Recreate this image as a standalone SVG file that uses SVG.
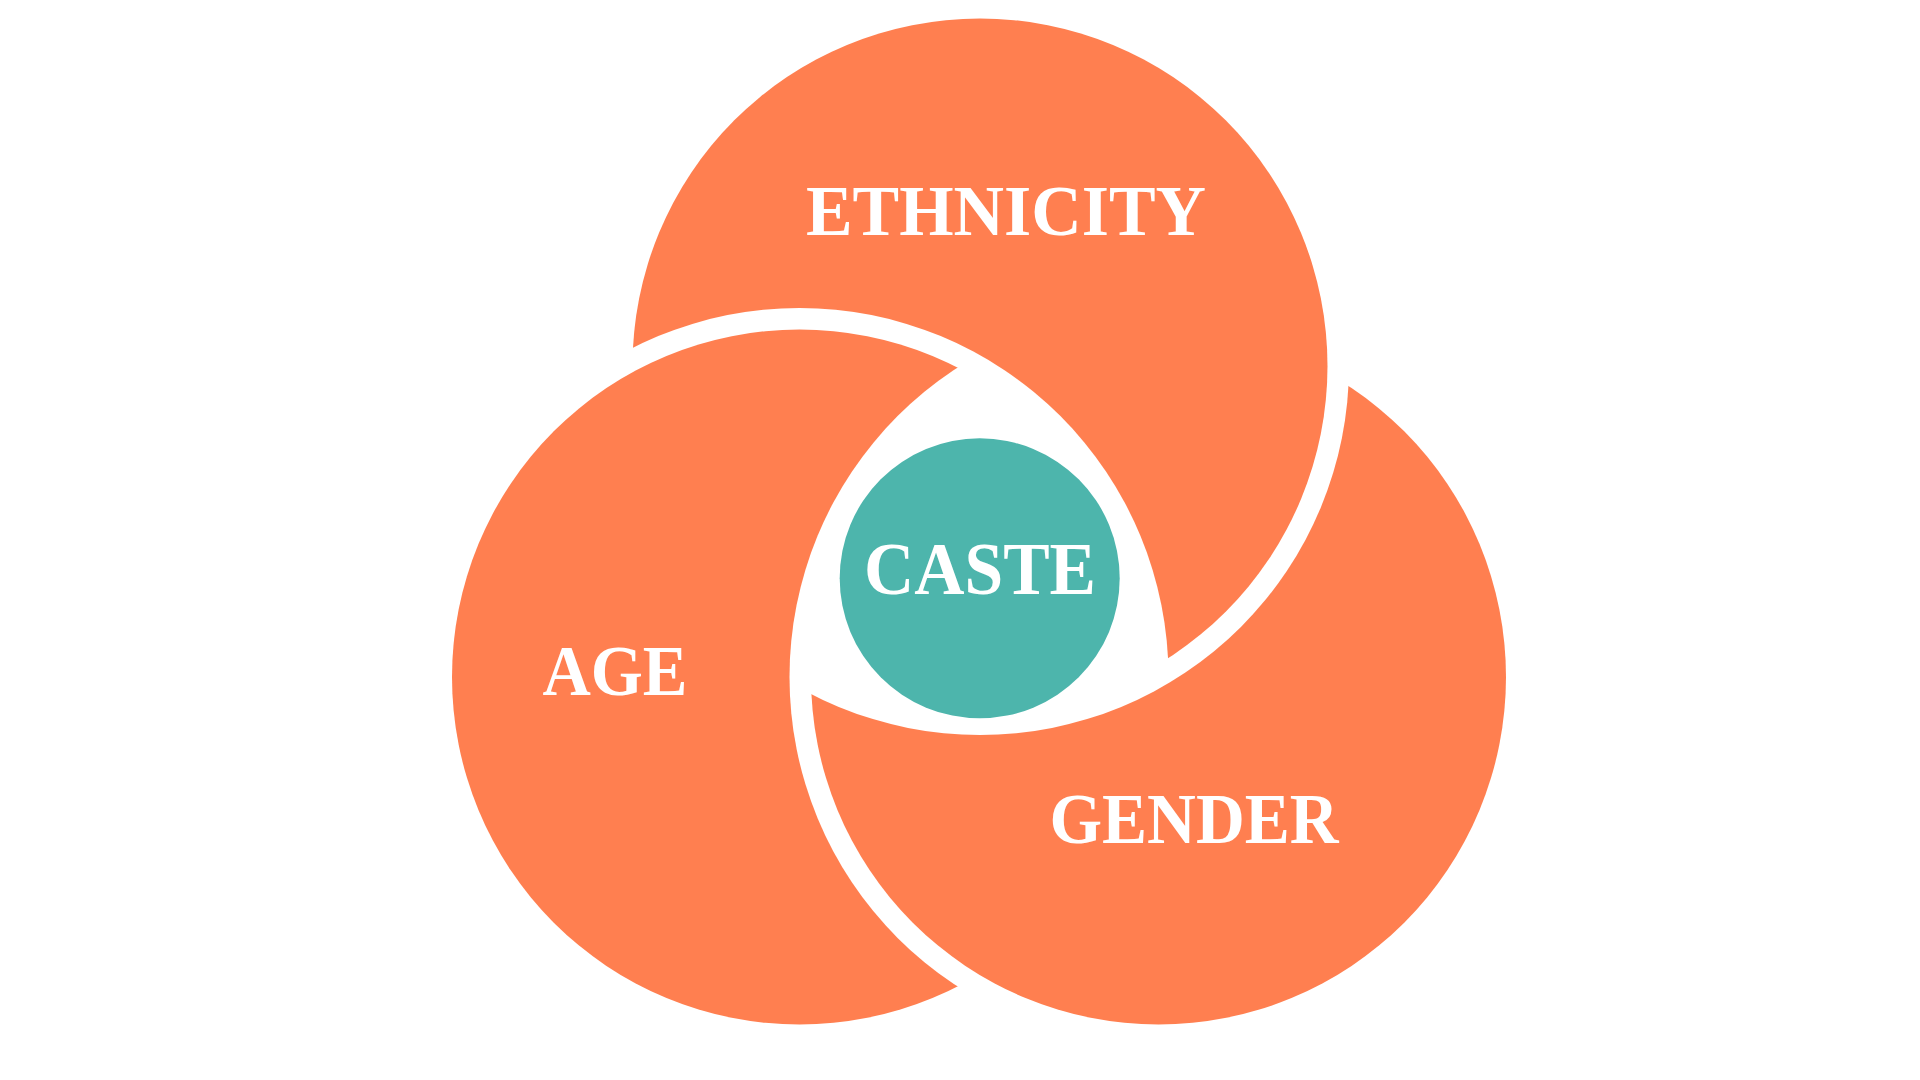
<svg xmlns="http://www.w3.org/2000/svg" width="1920" height="1080" viewBox="0 0 1920 1080">
  <style>
    .ring { fill: #FF7F50; }
    .core { fill: #4DB5AC; }
    .label { fill: #FFFFFF; font-family: "Liberation Serif", "Times New Roman", serif; font-weight: bold; text-anchor: middle; }
  </style>
  <defs>
    <mask id="cutByAge" maskUnits="userSpaceOnUse" x="0" y="0" width="1920" height="1080">
      <rect x="0" y="0" width="1920" height="1080" fill="#fff"/>
      <circle cx="799.5" cy="677" r="369" fill="#000"/>
    </mask>
    <mask id="cutByGender" maskUnits="userSpaceOnUse" x="0" y="0" width="1920" height="1080">
      <rect x="0" y="0" width="1920" height="1080" fill="#fff"/>
      <circle cx="1158.5" cy="677" r="369" fill="#000"/>
    </mask>
    <mask id="cutByEthnicity" maskUnits="userSpaceOnUse" x="0" y="0" width="1920" height="1080">
      <rect x="0" y="0" width="1920" height="1080" fill="#fff"/>
      <circle cx="980" cy="366" r="369" fill="#000"/>
    </mask>
  </defs>
  <rect x="0" y="0" width="1920" height="1080" fill="#FFFFFF"/>
  <g id="ethnicity">
    <circle class="ring" cx="980" cy="366" r="347.5" mask="url(#cutByAge)"/>
    <text class="label" x="1006" y="235" font-size="72" textLength="400" lengthAdjust="spacingAndGlyphs">ETHNICITY</text>
  </g>
  <g id="age">
    <circle class="ring" cx="799.5" cy="677" r="347.5" mask="url(#cutByGender)"/>
    <text class="label" x="615" y="695" font-size="72" textLength="145" lengthAdjust="spacingAndGlyphs">AGE</text>
  </g>
  <g id="gender">
    <circle class="ring" cx="1158.5" cy="677" r="347.5" mask="url(#cutByEthnicity)"/>
    <text class="label" x="1194" y="843" font-size="72" textLength="289" lengthAdjust="spacingAndGlyphs">GENDER</text>
  </g>
  <g id="caste">
    <circle class="core" cx="979.7" cy="578.3" r="140"/>
    <text class="label" x="980" y="594" font-size="75" textLength="232" lengthAdjust="spacingAndGlyphs">CASTE</text>
  </g>
  <g id="connectors"></g>
</svg>
